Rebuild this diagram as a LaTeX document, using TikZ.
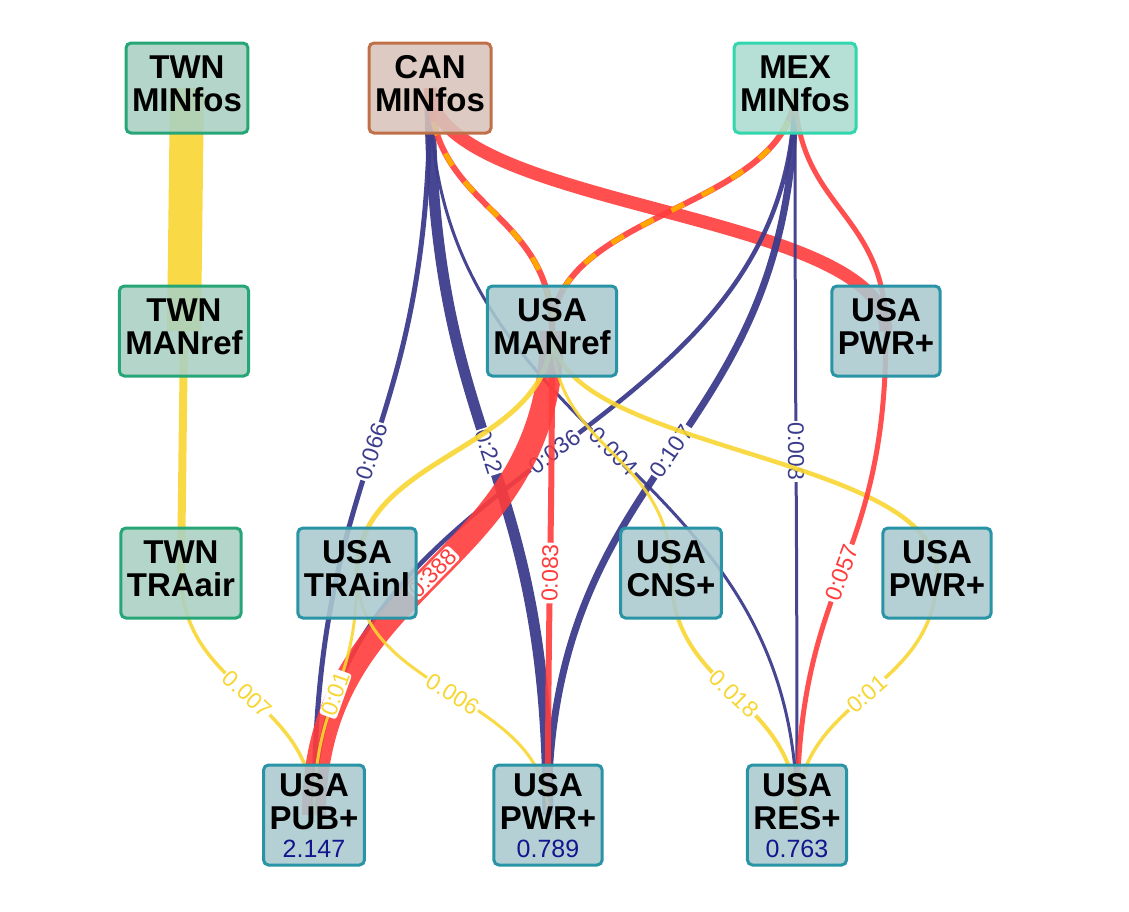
\documentclass[tikz,border=0pt]{standalone}
\usepackage{fontspec}
\setmainfont{Liberation Sans}
\usetikzlibrary{calc,backgrounds}
\definecolor{usafill}{RGB}{170,201,207}
\definecolor{usaline}{RGB}{40,148,166}
\definecolor{twnfill}{RGB}{170,208,195}
\definecolor{twnline}{RGB}{38,166,118}
\definecolor{canfill}{RGB}{216,195,185}
\definecolor{canline}{RGB}{192,112,72}
\definecolor{mexfill}{RGB}{172,220,208}
\definecolor{mexline}{RGB}{50,214,172}
\definecolor{flownavy}{RGB}{60,60,140}
\definecolor{flowred}{RGB}{255,60,60}
\definecolor{flowyel}{RGB}{248,214,50}
\definecolor{floworg}{RGB}{255,168,0}
\definecolor{valblue}{RGB}{20,20,140}

\begin{document}
\begin{tikzpicture}[x=1pt,y=-1pt,
    box/.style={rounded corners=5pt, line width=3pt, minimum height=90pt, inner xsep=6pt,
        inner ysep=2pt, align=center, font=\fontsize{33}{33}\selectfont\bfseries,
        fill opacity=0.88, text opacity=1, text depth=9pt},
    usa/.style={box, fill=usafill, draw=usaline},
    usaend/.style={usa, minimum height=100pt, text depth=0pt},
    twn/.style={box, fill=twnfill, draw=twnline},
    can/.style={box, fill=canfill, draw=canline},
    mex/.style={box, fill=mexfill, draw=mexline},
    vlink/.style={to path={let \p1=(\tikztostart), \p2=(\tikztotarget) in
        (\p1) .. controls (\x1,{0.5*\y1+0.5*\y2}) and (\x2,{0.5*\y1+0.5*\y2}) .. (\p2) \tikztonodes}},
    navy/.style={draw=flownavy, draw opacity=0.95},
    red/.style={draw=flowred, draw opacity=0.9},
    yel/.style={draw=flowyel, draw opacity=0.9},
    lbl/.style={midway, sloped, fill=white, rounded corners=3pt, inner xsep=1.5pt, inner ysep=1pt,
        font=\fontsize{23}{23}\selectfont}]
    \useasboundingbox (0,0) rectangle (1129,911);

    \node[twn] (twnMin) at (187,88) {TWN\\MINfos};
    \node[can] (canMin) at (430,88) {CAN\\MINfos};
    \node[mex] (mexMin) at (795,88) {MEX\\MINfos};
    \node[twn] (twnMan) at (184,331) {TWN\\MANref};
    \node[usa] (usaMan) at (552,331) {USA\\MANref};
    \node[usa] (usaPwrA) at (886,331) {USA\\PWR+};
    \node[twn] (twnAir) at (181,573) {TWN\\TRAair};
    \node[usa] (usaInl) at (357,573) {USA\\TRAinl};
    \node[usa] (usaCns) at (671,573) {USA\\CNS+};
    \node[usa] (usaPwrB) at (937,573) {USA\\PWR+};
    \node[usaend] (usaPub) at (314,815) {USA\\PUB+\\[-5pt]{\fontsize{25}{25}\selectfont\mdseries\color{valblue}2.147}};
    \node[usaend] (usaPwrC) at (548,815) {USA\\PWR+\\[-5pt]{\fontsize{25}{25}\selectfont\mdseries\color{valblue}0.789}};
    \node[usaend] (usaRes) at (797,815) {USA\\RES+\\[-5pt]{\fontsize{25}{25}\selectfont\mdseries\color{valblue}0.763}};

    \begin{scope}[on background layer]
        \draw[yel, line width=34pt] (twnMin.center) -- (twnMan.center);
        \draw[yel, line width=8pt] (twnMan.center) -- (twnAir.center);
        \draw[yel, line width=3.5pt] (twnAir.center) to[vlink] node[lbl, text=flowyel]{0.007} (usaPub.center);

        \draw[navy, line width=5pt] (canMin.center) to[vlink] node[lbl, text=flownavy]{0:066} (usaPub.center);
        \draw[navy, line width=11pt] (canMin.center) to[vlink] node[lbl, text=flownavy]{0:22} (usaPwrC.center);
        \draw[navy, line width=3pt] (canMin.center) to[vlink] node[lbl, text=flownavy]{0.004} (usaRes.center);
        \draw[red, line width=13pt] (canMin.center) to[vlink] (usaPwrA.center);
        \draw[red, line width=6pt] (canMin.center) to[vlink] (usaMan.center);
        \draw[draw=floworg, line width=5pt, dash pattern=on 14pt off 20pt] (canMin.center) to[vlink] (usaMan.center);

        \draw[navy, line width=4.5pt] (mexMin.center) to[vlink] node[lbl, text=flownavy]{0:036} (usaPub.center);
        \draw[navy, line width=7pt] (mexMin.center) to[vlink] node[lbl, text=flownavy]{0:107} (usaPwrC.center);
        \draw[navy, line width=3pt] (mexMin.center) to[vlink] node[lbl, text=flownavy]{0:008} (usaRes.center);
        \draw[red, line width=5pt] (mexMin.center) to[vlink] (usaPwrA.center);
        \draw[red, line width=6pt] (mexMin.center) to[vlink] (usaMan.center);
        \draw[draw=floworg, line width=5pt, dash pattern=on 14pt off 20pt] (mexMin.center) to[vlink] (usaMan.center);

        \draw[red, line width=24pt] (usaMan.center) to[vlink] node[lbl, text=flowred]{0:388} (usaPub.center);
        \draw[red, line width=6pt] (usaMan.center) to[vlink] node[lbl, text=flowred]{0:083} (usaPwrC.center);
        \draw[yel, line width=5pt] (usaMan.center) to[vlink] (usaInl.center);
        \draw[yel, line width=3pt] (usaMan.center) to[vlink] (usaCns.center);
        \draw[yel, line width=4.5pt] (usaMan.center) to[vlink] (usaPwrB.center);

        \draw[red, line width=5pt] (usaPwrA.center) to[vlink] node[lbl, text=flowred]{0:057} (usaRes.center);
        \draw[yel, line width=3pt] (usaInl.center) to[vlink] node[lbl, text=flowyel]{0:01} (usaPub.center);
        \draw[yel, line width=3pt] (usaInl.center) to[vlink] node[lbl, text=flowyel]{0.006} (usaPwrC.center);
        \draw[yel, line width=4pt] (usaCns.center) to[vlink] node[lbl, text=flowyel]{0.018} (usaRes.center);
        \draw[yel, line width=3.5pt] (usaPwrB.center) to[vlink] node[lbl, text=flowyel]{0:01} (usaRes.center);
    \end{scope}
\end{tikzpicture}
\end{document}
